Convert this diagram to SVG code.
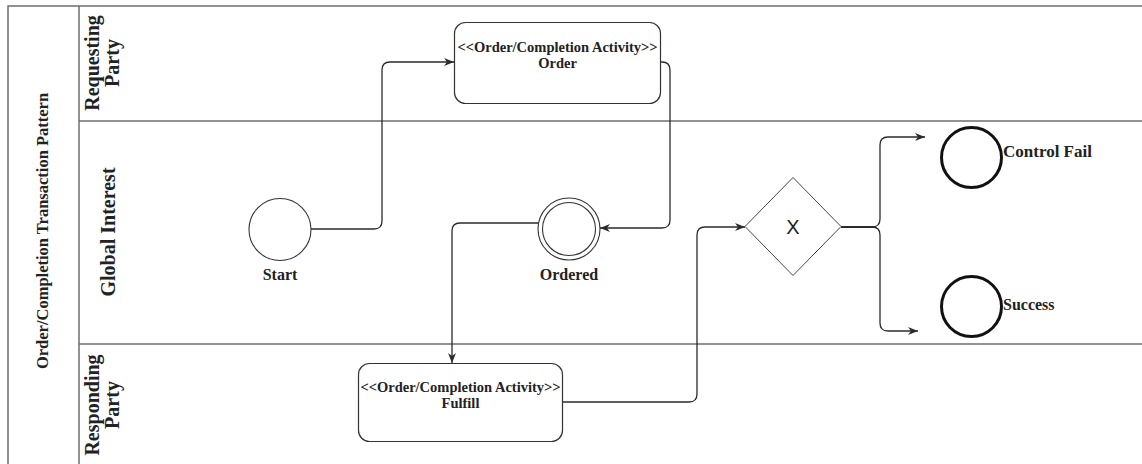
<svg xmlns="http://www.w3.org/2000/svg" width="1142" height="464" viewBox="0 0 1142 464">
<style>
.frame{stroke:#6e6e6e;stroke-width:1.5;fill:none}
.conn{stroke:#2b2b2b;stroke-width:1.3;fill:none}
.box{fill:#fff;stroke:#333;stroke-width:1.2}
.ev{fill:#fff;stroke:#333;stroke-width:1.1}
.end{fill:#fff;stroke:#111;stroke-width:3}
.lbl{font-family:"Liberation Serif","Times New Roman",serif;font-weight:bold;fill:#222}
.lane{font-size:20px}
.act{font-size:14.5px}
.evl{font-size:16px}
</style>
<defs>
<marker id="arr" markerUnits="userSpaceOnUse" markerWidth="11" markerHeight="9" refX="10" refY="4.5" orient="auto">
<path d="M0,0.5 L10,4.5 L0,8.5 L3,4.5 Z" fill="#2b2b2b"/>
</marker>
</defs>
<g id="pool">
<path class="frame" d="M8,464 V6 H1142"/>
<path class="frame" d="M79,6 V464"/>
<path class="frame" d="M79,121 H1142"/>
<path class="frame" d="M79,344 H1142"/>
<text class="lbl" font-size="16.5" text-anchor="middle" transform="translate(48,231) rotate(-90)">Order/Completion Transaction Pattern</text>
</g>
<g id="lane-requesting">
<text class="lbl lane" text-anchor="middle" transform="translate(99,63) rotate(-90)">Requesting</text>
<text class="lbl lane" text-anchor="middle" transform="translate(119,63) rotate(-90)">Party</text>
</g>
<g id="lane-global">
<text class="lbl lane" text-anchor="middle" transform="translate(115,232) rotate(-90)">Global Interest</text>
</g>
<g id="lane-responding">
<text class="lbl lane" text-anchor="middle" transform="translate(99,405) rotate(-90)">Responding</text>
<text class="lbl lane" text-anchor="middle" transform="translate(119,405) rotate(-90)">Party</text>
</g>
<g id="connectors">
<path class="conn" marker-end="url(#arr)" d="M311,229 H374 Q382,229 382,221 V70 Q382,62 390,62 H454"/>
<path class="conn" marker-end="url(#arr)" d="M661,62 H662 Q670,62 670,70 V220 Q670,228 662,228 H600"/>
<path class="conn" marker-end="url(#arr)" d="M538,223 H460 Q452,223 452,231 V363"/>
<path class="conn" marker-end="url(#arr)" d="M562,402 H689 Q697,402 697,394 V235 Q697,227 705,227 H745"/>
<path class="conn" marker-end="url(#arr)" d="M841,227 H872 Q880,227 880,219 V145 Q880,137 888,137 H925"/>
<path class="conn" marker-end="url(#arr)" d="M841,227 H872 Q880,227 880,235 V323 Q880,331 888,331 H918"/>
<path stroke="#2b2b2b" stroke-width="2.2" fill="none" d="M841,227 H874"/>
</g>
<g id="order">
<rect class="box" x="454.5" y="22.5" width="206" height="81" rx="11"/>
<text class="lbl act" x="557.5" y="52" text-anchor="middle">&lt;&lt;Order/Completion Activity&gt;&gt;</text>
<text class="lbl act" x="557.5" y="68" text-anchor="middle">Order</text>
</g>
<g id="start">
<circle class="ev" cx="280" cy="229.5" r="31"/>
<text class="lbl evl" x="280" y="280" text-anchor="middle">Start</text>
</g>
<g id="ordered">
<circle class="ev" cx="569" cy="229" r="31"/>
<circle class="ev" cx="569" cy="229" r="26.5"/>
<text class="lbl evl" x="569" y="280" text-anchor="middle">Ordered</text>
</g>
<g id="fulfill">
<rect class="box" x="358.5" y="363.5" width="204" height="78" rx="11"/>
<text class="lbl act" x="460.5" y="392" text-anchor="middle">&lt;&lt;Order/Completion Activity&gt;&gt;</text>
<text class="lbl act" x="460.5" y="408" text-anchor="middle">Fulfill</text>
</g>
<g id="gateway">
<path d="M793,177.5 L841,226.5 L793,275.5 L745,226.5 Z" fill="#fff" stroke="#444" stroke-width="1"/>
<text x="793" y="233.5" text-anchor="middle" font-family="Liberation Sans, Arial, sans-serif" font-size="20" fill="#222">X</text>
</g>
<g id="control-fail">
<circle class="end" cx="971.5" cy="157.5" r="30"/>
<text class="lbl" font-size="17" x="1003" y="157">Control Fail</text>
</g>
<g id="success">
<circle class="end" cx="971.5" cy="306.5" r="30"/>
<text class="lbl" font-size="16" x="1003" y="310">Success</text>
</g>
</svg>
